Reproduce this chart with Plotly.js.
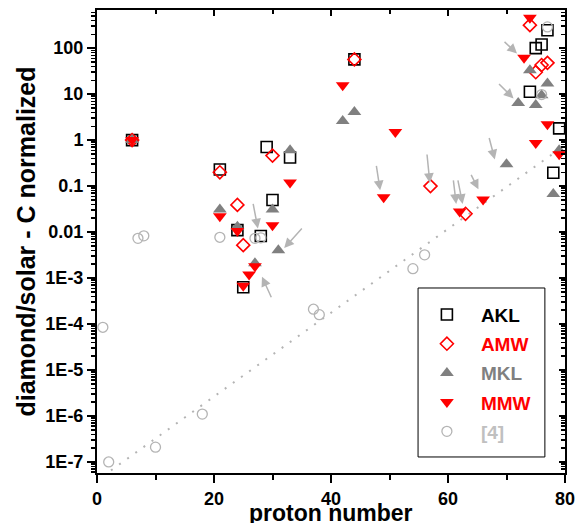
<!DOCTYPE html>
<html><head><meta charset="utf-8">
<script src="https://cdn.plot.ly/plotly-3.0.1.min.js"></script>
<style>html,body{margin:0;padding:0;background:#fff}#chart{width:582px;height:523px}</style>
</head><body><div id="chart"></div>
<script>
// ---- data ----
const akl_z = [6, 21, 24, 25, 28, 29, 30, 33, 44, 74, 75, 76, 77, 78, 79];
const akl_v = [1, 0.23, 0.011, 6.3e-4, 0.0082, 0.71, 0.05, 0.42, 57, 11.3, 100, 120, 245, 0.195, 1.8];

const amw_z = [6, 21, 24, 25, 30, 44, 57, 63, 74, 75, 76, 77];
const amw_v = [1, 0.2, 0.039, 0.0052, 0.46, 57, 0.1, 0.025, 316, 30, 43, 48];

const mkl_z = [6, 21, 24, 27, 30, 31, 33, 42, 44, 70, 72, 74, 75, 76, 77, 78, 79];
const mkl_v = [1, 0.031, 0.013, 0.0021, 0.031, 0.004, 0.6, 2.6, 4.1, 0.3, 6.4, 33, 5.8, 9.5, 17, 0.067, 0.6];

const mmw_z = [6, 21, 24, 25, 26, 27, 30, 33, 42, 49, 51, 62, 66, 73, 74, 75, 77, 79];
const mmw_v = [1, 0.022, 0.0105, 6.8e-4, 0.0012, 0.0018, 0.014, 0.12, 15.7, 0.057, 1.5, 0.028, 0.051, 62, 460, 0.87, 2.2, 0.49];

const ref4_z = [1, 2, 7, 8, 10, 18, 21, 27, 28, 37, 38, 54, 56, 76, 77];
const ref4_v = [8.5e-5, 1e-7, 0.0073, 0.0083, 2.1e-7, 1.1e-6, 0.0077, 0.0073, 0.0075, 2.1e-4, 1.6e-4, 1.6e-3, 3.2e-3, 9.8, 290];

// dotted trend line (end points)
const trend_z = [1, 80];
const trend_v = [4.9e-8, 0.78];

// arrows: head position (proton number, value)
const arrow_z = [27.5, 32.0, 28.2, 48.4, 56.9, 61.4, 62.5, 65.2, 71.8, 71.2, 68.0];
const arrow_v = [0.012, 0.0045, 0.00107, 0.081, 0.117, 0.041, 0.041, 0.085, 76.7, 8.07, 0.38];
const arrow_dx = [-5, 19, 10, -4, -3, -3, -5, -8, -14, -16, -6];
const arrow_dy = [-26, -21, 22, -26, -30, -25, -25, -16, -13, -16, -23];

const yTickVals = [1e-7, 1e-6, 1e-5, 1e-4, 1e-3, 0.01, 0.1, 1, 10, 100];
const yTickText = ['1E-7', '1E-6', '1E-5', '1E-4', '1E-3', '0.01', '0.1', '1', '10', '100'];
const xTickVals = [0, 20, 40, 60, 80];
const xMinorVals = [10, 30, 50, 70];
const xTitle = 'proton number';
const yTitle = 'diamond/solar - C normalized';

// ---- build ----
const FONT = 'Arial, "Liberation Sans", sans-serif';
const minorY = [];
for (let e = -8; e <= 2; e++) for (let m = 2; m <= 9; m++) minorY.push(m * Math.pow(10, e));

const traces = [
  {x: trend_z, y: trend_v, mode: 'lines', line: {color: '#b4b4b4', width: 2, dash: '2px,8px'}, showlegend: false, hoverinfo: 'skip'},
  {x: akl_z, y: akl_v, mode: 'markers', name: '<span style="color:#000">AKL</span>', legendgroup: 'a',
   marker: {symbol: 'square-open', size: 11, color: '#000', line: {width: 1.6}}},
  {x: amw_z, y: amw_v, mode: 'markers', name: '<span style="color:#ff0000">AMW</span>', legendgroup: 'b',
   marker: {symbol: 'diamond-open', size: 10, color: '#ff0000', line: {width: 1.6}}},
  {x: mkl_z, y: mkl_v, mode: 'markers', name: '<span style="color:#808080">MKL</span>', legendgroup: 'c',
   marker: {symbol: 'triangle-up', size: 12, color: '#808080', line: {width: 0}}},
  {x: mmw_z, y: mmw_v, mode: 'markers', name: '<span style="color:#ff0000">MMW</span>', legendgroup: 'd',
   marker: {symbol: 'triangle-down', size: 12, color: '#ff0000', line: {width: 0}}},
  {x: ref4_z, y: ref4_v, mode: 'markers', name: '<span style="color:#c0c0c0">[4]</span>', legendgroup: 'e',
   marker: {symbol: 'circle-open', size: 10, color: '#b4b4b4', line: {width: 1.3}}},
  {x: [], y: [], xaxis: 'x2', yaxis: 'y', showlegend: false},
  {x: [], y: [], xaxis: 'x', yaxis: 'y2', showlegend: false}
];

const annotations = arrow_z.map((z, i) => ({
  x: z, y: Math.log10(arrow_v[i]), xref: 'x', yref: 'y',
  ax: arrow_dx[i], ay: arrow_dy[i], showarrow: true, text: '',
  arrowhead: 2, arrowsize: 1.3, arrowwidth: 1.5, arrowcolor: '#b4b4b4', standoff: 0
}));
annotations.push({text: xTitle, xref: 'paper', yref: 'paper', x: 0.5, y: -0.086, xanchor: 'center', yanchor: 'middle',
  showarrow: false, font: {family: FONT, size: 23, weight: 'bold', color: '#000'}});

const yr = [-7.24, 2.83];
const axisCommon = {showline: true, linecolor: '#000', linewidth: 2, showgrid: false, zeroline: false,
  tickcolor: '#000', tickwidth: 2};

const layout = {
  width: 582, height: 523,
  margin: {l: 97, r: 17, t: 10, b: 50},
  paper_bgcolor: '#fff', plot_bgcolor: '#fff',
  font: {family: FONT, color: '#000', weight: 'bold'},
  showlegend: true,
  legend: {x: 0.675, y: 0.383, xanchor: 'left', yanchor: 'top', bgcolor: 'rgba(0,0,0,0)', borderwidth: 0,
    font: {family: FONT, size: 19, weight: 'bold'}, traceorder: 'grouped', tracegroupgap: 1.5, itemwidth: 58},
  xaxis: Object.assign({}, axisCommon, {
    range: [0, 80], tickmode: 'array', tickvals: xTickVals, ticks: 'outside', ticklen: 8,
    minor: {tickmode: 'array', tickvals: xMinorVals, ticks: 'outside', ticklen: 5, tickwidth: 2, tickcolor: '#000'},
    tickfont: {family: FONT, size: 18, weight: 'bold'}, ticklabelstandoff: 0
  }),
  xaxis2: Object.assign({}, axisCommon, {
    overlaying: 'x', side: 'top', anchor: 'y', range: [0, 80], tickmode: 'array', tickvals: xTickVals,
    ticks: 'inside', ticklen: 6, showticklabels: false,
    minor: {tickmode: 'array', tickvals: xMinorVals, ticks: 'inside', ticklen: 4, tickwidth: 2, tickcolor: '#000'}
  }),
  yaxis: Object.assign({}, axisCommon, {
    type: 'log', range: yr, tickmode: 'array', tickvals: yTickVals, ticktext: yTickText,
    ticks: 'outside', ticklen: 8,
    minor: {tickmode: 'array', tickvals: minorY, ticks: 'outside', ticklen: 4, tickwidth: 1.5, tickcolor: '#000'},
    tickfont: {family: FONT, size: 18, weight: 'bold'},
    title: {text: yTitle, font: {family: FONT, size: 25, weight: 'bold'}, standoff: 3}
  }),
  yaxis2: Object.assign({}, axisCommon, {
    type: 'log', overlaying: 'y', side: 'right', anchor: 'x', range: yr, tickmode: 'array', tickvals: yTickVals,
    ticks: 'inside', ticklen: 6, showticklabels: false,
    minor: {tickmode: 'array', tickvals: minorY, ticks: 'inside', ticklen: 4, tickwidth: 1.5, tickcolor: '#000'}
  }),
  shapes: [{type: 'rect', xref: 'paper', yref: 'paper', x0: 0.686, x1: 0.957, y0: 0.0346, y1: 0.3996,
    line: {color: '#000', width: 1}, fillcolor: 'rgba(0,0,0,0)'}],
  annotations: annotations
};

Plotly.newPlot('chart', traces, layout, {displayModeBar: false, staticPlot: true});
</script></body></html>
